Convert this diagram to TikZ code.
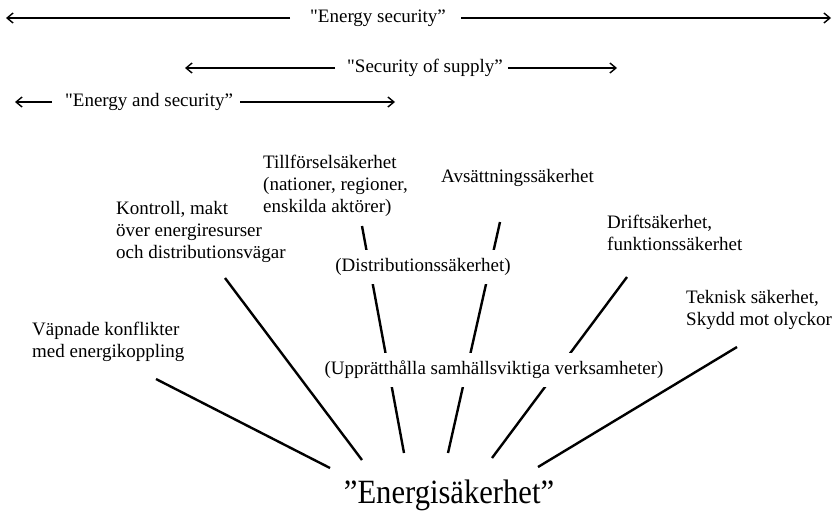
\documentclass[tikz,border=0pt]{standalone}
\usepackage{graphicx}
\usepackage{fontspec}
\setmainfont{Liberation Serif}
\newfontfamily\plainserif{Liberation Serif}[Ligatures=ResetAll]
\newcommand{\sq}{{\plainserif"}}
\usetikzlibrary{arrows.meta,backgrounds}
\begin{document}
\begin{tikzpicture}[x=1pt,y=-1pt,
  lbl/.style={font=\fontsize{19}{22}\selectfont, inner sep=0pt, align=left, anchor=north west},
  mid/.style={font=\fontsize{19}{22}\selectfont, fill=white, inner xsep=2pt, inner ysep=8pt},
  rng/.style={font=\fontsize{19}{22}\selectfont, inner sep=0pt, anchor=west},
  conn/.style={line width=2.4pt},
  spanarrow/.style={line width=1.4pt, -{Straight Barb[length=6pt,width=10pt]}}]
\useasboundingbox (0,0) rectangle (834,512);

% range arrows
\node[rng] (es) at (310,18) {\sq Energy security”};
\node[rng] (sos) at (347,68) {\sq Security of supply”};
\node[rng] (ens) at (65,102) {\sq Energy and security”};
\coordinate (esL) at (6,18);
\coordinate (esR) at (831,18);
\coordinate (sosL) at (185,68);
\coordinate (sosR) at (617,68);
\coordinate (ensL) at (15,102);
\coordinate (ensR) at (395,102);
\draw[spanarrow] ([xshift=-20pt]es.west) -- (esL);
\draw[spanarrow] ([xshift=15pt]es.east) -- (esR);
\draw[spanarrow] ([xshift=-12pt]sos.west) -- (sosL);
\draw[spanarrow] ([xshift=5pt]sos.east) -- (sosR);
\draw[spanarrow] ([xshift=-13pt]ens.west) -- (ensL);
\draw[spanarrow] ([xshift=7pt]ens.east) -- (ensR);

% labels
\node[lbl] (till) at (263,155) {Tillförselsäkerhet\\(nationer, regioner,\\enskilda aktörer)};
\node[lbl] (kon) at (116,201) {Kontroll, makt\\över energiresurser\\och distributionsvägar};
\node[lbl] (avs) at (441,169) {Avsättningssäkerhet};
\node[lbl] (drift) at (607,215) {Driftsäkerhet,\\funktionssäkerhet};
\node[lbl] (tek) at (686,290) {Teknisk säkerhet,\\Skydd mot olyckor};
\node[lbl] (vap) at (32,322) {Väpnade konflikter\\med energikoppling};
\node[mid] (dist) at (423,267) {(Distributionssäkerhet)};
\node[mid] (upp) at (494,370) {(Upprätthålla samhällsviktiga verksamheter)};
\node[font=\fontsize{34}{38}\selectfont, inner sep=0pt, anchor=base] (en) at (449,503) {\scalebox{0.9}[1]{”Energisäkerhet”}};

% connectors
\coordinate (vapA) at (156,379);
\coordinate (vapB) at (330,468);
\coordinate (konA) at (225,278);
\coordinate (konB) at (362,460);
\coordinate (tilA) at (362,226);
\coordinate (tilB) at (404,453);
\coordinate (avsA) at (500,222);
\coordinate (avsB) at (448,453);
\coordinate (driA) at (627,277);
\coordinate (driB) at (492,458);
\coordinate (tekA) at (737,347);
\coordinate (tekB) at (538,467);
\begin{pgfonlayer}{background}
\draw[conn] (vapA) -- (vapB);
\draw[conn] (konA) -- (konB);
\draw[conn] (tilA) -- (tilB);
\draw[conn] (avsA) -- (avsB);
\draw[conn] (driA) -- (driB);
\draw[conn] (tekA) -- (tekB);
\end{pgfonlayer}
\end{tikzpicture}
\end{document}
